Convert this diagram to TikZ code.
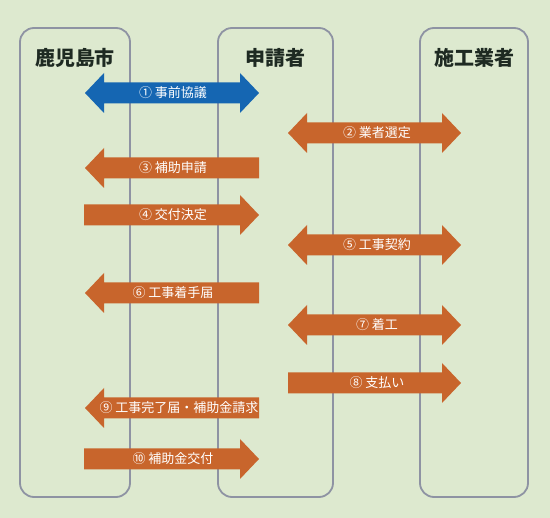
\documentclass[tikz,border=0pt]{standalone}
\usepackage{fontspec}
\setmainfont{Noto Sans CJK JP}
\definecolor{bgc}{HTML}{DDE9CF}
\definecolor{orgc}{HTML}{C8652C}
\definecolor{bluc}{HTML}{1566B2}
\definecolor{lanec}{HTML}{8E93A3}
\definecolor{hdrc}{HTML}{1E2A22}
\newcommand\myRA[4]{\fill[#1] (#2,#4-10.5) -- (#3-19,#4-10.5) -- (#3-19,#4-20) -- (#3,#4) -- (#3-19,#4+20) -- (#3-19,#4+10.5) -- (#2,#4+10.5) -- cycle;}
\newcommand\myLA[4]{\fill[#1] (#3,#4-10.5) -- (#2+19,#4-10.5) -- (#2+19,#4-20) -- (#2,#4) -- (#2+19,#4+20) -- (#2+19,#4+10.5) -- (#3,#4+10.5) -- cycle;}
\newcommand\myDA[4]{\fill[#1] (#2+19,#4-10.5) -- (#3-19,#4-10.5) -- (#3-19,#4-20) -- (#3,#4) -- (#3-19,#4+20) -- (#3-19,#4+10.5) -- (#2+19,#4+10.5) -- (#2+19,#4+20) -- (#2,#4) -- (#2+19,#4-20) -- cycle;}
\begin{document}
\begin{tikzpicture}[x=1pt,y=-1pt,
  lane/.style={draw=lanec,line width=1.8pt,rounded corners=14pt,inner sep=0pt},
  hdr/.style={text=hdrc,font=\fontsize{20}{20}\selectfont\bfseries},
  lbl/.style={text=white,font=\fontsize{13}{13}\selectfont}]
\useasboundingbox (0,0) rectangle (550,518);
\fill[bgc] (0,0) rectangle (550,518);
% lanes
\node[lane,minimum width=110pt,minimum height=469pt] (L1) at (75,262.5) {};
\node[lane,minimum width=115pt,minimum height=469pt] (L2) at (275.5,262.5) {};
\node[lane,minimum width=108pt,minimum height=469pt] (L3) at (474,262.5) {};
% headers
\node[hdr] (H1) at (75,58) {鹿児島市};
\node[hdr] (H2) at (275,58) {申請者};
\node[hdr] (H3) at (474,58) {施工業者};
% arrows
\myDA{bluc}{85}{259}{93}
\myDA{orgc}{288}{461}{133}
\myLA{orgc}{85}{259}{168}
\myRA{orgc}{84}{259}{215}
\myDA{orgc}{288}{461}{245}
\myLA{orgc}{85}{259}{293}
\myDA{orgc}{288}{461}{325}
\myRA{orgc}{288}{461}{383}
\myLA{orgc}{85}{259}{408}
\myRA{orgc}{84}{259}{459}
% labels
\node[lbl] (T1) at (173,93) {① 事前協議};
\node[lbl] (T2) at (377,133) {② 業者選定};
\node[lbl] (T3) at (173,168) {③ 補助申請};
\node[lbl] (T4) at (173,215) {④ 交付決定};
\node[lbl] (T5) at (377,245) {⑤ 工事契約};
\node[lbl] (T6) at (173,293) {⑥ 工事着手届};
\node[lbl] (T7) at (377,325) {⑦ 着工};
\node[lbl] (T8) at (377,383) {⑧ 支払い};
\node[lbl] (T9) at (179,408) {⑨ 工事完了届・補助金請求};
\node[lbl] (T10) at (173,459) {⑩ 補助金交付};
\end{tikzpicture}
\end{document}
